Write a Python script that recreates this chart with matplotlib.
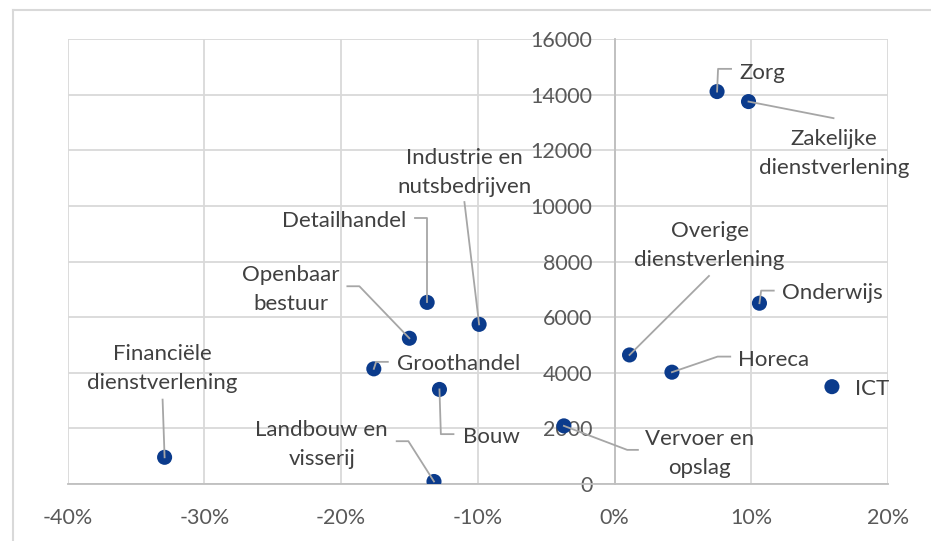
import matplotlib
matplotlib.use("Agg")
import matplotlib.pyplot as plt
from matplotlib.lines import Line2D
from matplotlib.ticker import FuncFormatter
import matplotlib.transforms as mtransforms

# Sectors: change in vacancies (%) vs. number of vacancies
sectors = [
    "Zorg",
    "Zakelijke\ndienstverlening",
    "Industrie en\nnutsbedrijven",
    "Detailhandel",
    "Openbaar\nbestuur",
    "Financiële\ndienstverlening",
    "Groothandel",
    "Bouw",
    "Landbouw en\nvisserij",
    "Overige\ndienstverlening",
    "Onderwijs",
    "Horeca",
    "ICT",
    "Vervoer en\nopslag",
]
change_pct = [0.075, 0.098, -0.099, -0.137, -0.150, -0.329, -0.176, -0.128,
              -0.132, 0.011, 0.106, 0.042, 0.159, -0.037]
vacancies = [14110, 13750, 5740, 6530, 5240, 960, 4140, 3400,
             90, 4640, 6500, 4020, 3500, 2090]

x_ticks = [-0.4, -0.3, -0.2, -0.1, 0.0, 0.1, 0.2]
y_ticks = list(range(0, 16001, 2000))

# Label placement: text anchor offset (px right, px down, from the marker),
# horizontal alignment, and leader-line vertices in the same offset units.
label_layout = {
    "Zorg": ((22.5, -12.5), "left", [(0, 0), (1, -22.7), (14, -22.7)]),
    "Zakelijke\ndienstverlening": ((85.2, 43.8), "center", [(0, 0), (85, 16.6)]),
    "Industrie en\nnutsbedrijven": ((-14.5, -160.7), "center", [(0, 0), (-14.7, -122.3)]),
    "Detailhandel": ((-21.3, -75.6), "right", [(0, 0), (0, -84.3), (-12, -84.3)]),
    "Openbaar\nbestuur": ((-118.6, -57), "center", [(0, 0), (-50, -52), (-62, -52)]),
    "Financiële\ndienstverlening": ((-2.4, -97), "center", [(0, 0), (-2, -57.7)]),
    "Groothandel": ((23.3, 1.5), "left", [(0, 0), (2.3, -7), (14, -7)]),
    "Bouw": ((23.4, 53.7), "left", [(0, 0), (1.4, 44.7), (14, 44.7)]),
    "Landbouw en\nvisserij": ((-112.3, -45.3), "center", [(0, 0), (-25.6, -40.3), (-37.3, -40.3)]),
    "Overige\ndienstverlening": ((80, -117.5), "center", [(0, 0), (79.4, -79)]),
    "Onderwijs": ((22.7, -4.1), "left", [(0, 0), (1.7, -12.6), (14.3, -12.6)]),
    "Horeca": ((66.3, -6.5), "left", [(0, 0), (45.7, -15.6), (58.3, -15.6)]),
    "ICT": ((22.7, 8.3), "left", []),
    "Vervoer en\nopslag": ((135.6, 19), "center", [(0, 0), (63.3, 24), (74, 24)]),
}
LINE_STEP = 29  # px between lines of a two-line label

W, H, DPI = 931, 541, 100
plt.rcParams["font.family"] = ["Lato", "DejaVu Sans"]
fig = plt.figure(figsize=(W / DPI, H / DPI), dpi=DPI)
fig.patch.set_facecolor("white")

ax = fig.add_axes([67.5 / W, 1 - 484 / H, (888 - 67.5) / W, (484 - 39) / H])
ax.set_xlim(-0.4, 0.2)
ax.set_ylim(0, 16000)
ax.set_xticks(x_ticks)
ax.set_yticks(y_ticks)
ax.xaxis.set_major_formatter(FuncFormatter(lambda v, _: f"{v * 100:.0f}%"))
ax.grid(True, color="#d9d9d9", linewidth=1.3, zorder=0)
ax.set_axisbelow(True)

for side in ("top", "right"):
    ax.spines[side].set_visible(False)
ax.spines["left"].set_position(("data", 0))
ax.spines["left"].set_color("#bfbfbf")
ax.spines["left"].set_linewidth(1.3)
ax.spines["bottom"].set_color("#bfbfbf")
ax.spines["bottom"].set_linewidth(1.3)

ax.tick_params(axis="both", length=0, labelsize=15.5, labelcolor="#595959")
ax.tick_params(axis="y", pad=16)
ax.tick_params(axis="x", pad=17)
for lbl in ax.get_yticklabels():
    lbl.set_zorder(5)

ax.scatter(change_pct, vacancies, s=118, color="#0b3b8c", zorder=3,
           edgecolors="none")

# Leader lines and labels, positioned in pixel offsets from each marker
for name, x, y in zip(sectors, change_pct, vacancies):
    (dx, dy), ha, leader = label_layout[name]
    bx, by = ax.transData.transform((x, y))
    if leader:
        line = Line2D([p[0] for p in leader], [-p[1] for p in leader],
                      color="#a6a6a6", linewidth=1.3, zorder=4, clip_on=False,
                      transform=mtransforms.Affine2D().translate(bx, by))
        ax.add_line(line)
    for i, part in enumerate(name.split("\n")):
        ax.annotate(part, xy=(x, y), xytext=(dx, -(dy + i * LINE_STEP)),
                    textcoords="offset pixels", ha=ha, va="baseline",
                    fontsize=16, color="#404040", zorder=6,
                    annotation_clip=False)

# Outer chart-area border
frame_kw = dict(color="#d9d9d9", linewidth=1.5, transform=fig.transFigure)
fig.add_artist(Line2D([13 / W, 1], [1 - 10 / H, 1 - 10 / H], **frame_kw))
fig.add_artist(Line2D([13 / W, 13 / W], [0, 1 - 10 / H], **frame_kw))

fig.savefig("out.png", dpi=DPI, facecolor="white")
